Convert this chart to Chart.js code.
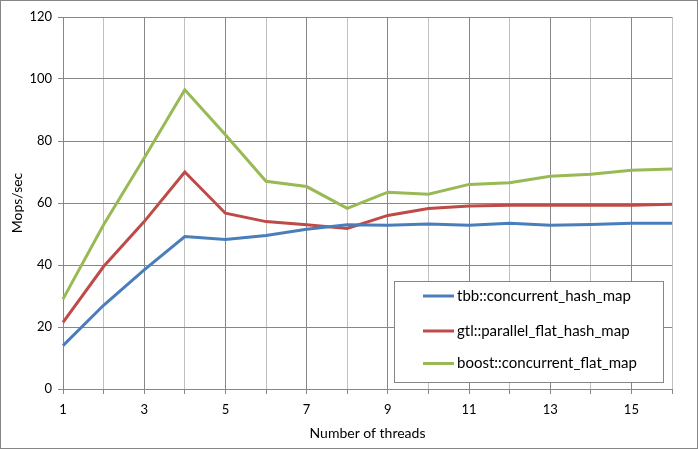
<!DOCTYPE html>
<html><head><meta charset="utf-8">
<script src="https://cdn.jsdelivr.net/npm/chart.js@4"></script>
<style>html,body{margin:0;padding:0;background:#fff;}#wrap{position:relative;width:698px;height:449px;box-sizing:border-box;border:1px solid #868686;}canvas{display:block;}</style>
</head><body><div id="wrap"><canvas id="c" width="696" height="447"></canvas></div>
<script>
const threads = ['1','2','3','4','5','6','7','8','9','10','11','12','13','14','15','16'];
const tbb = [14, 27, 38.4, 49.2, 48.2, 49.5, 51.5, 53, 52.8, 53.2, 52.8, 53.5, 52.8, 53.1, 53.5, 53.5];
const gtl = [21.5, 39.5, 54, 70, 56.7, 54, 53, 51.8, 56, 58.2, 59, 59.3, 59.3, 59.3, 59.3, 59.6];
const boost = [29, 53, 74.5, 96.5, 82, 67, 65.3, 58.3, 63.5, 62.8, 66, 66.5, 68.6, 69.3, 70.6, 71];
const seriesNames = ['tbb::concurrent_hash_map', 'gtl::parallel_flat_hash_map', 'boost::concurrent_flat_map'];
const seriesColors = ['#4a7ebb', '#be4b48', '#98b954'];

const FONT = 'Lato, "Open Sans", sans-serif';

const insideLegend = {
  id: 'insideLegend',
  afterDraw(chart) {
    const ctx = chart.ctx;
    const x = 393, y = 280, w = 269, h = 101;
    ctx.save();
    ctx.fillStyle = '#fff';
    ctx.fillRect(x, y, w, h);
    ctx.strokeStyle = '#868686';
    ctx.lineWidth = 1;
    ctx.strokeRect(x + 0.5, y + 0.5, w, h);
    ctx.font = '15px ' + FONT;
    ctx.textBaseline = 'middle';
    const ys = [296, 331, 363.5];
    chart.data.datasets.forEach((ds, i) => {
      const yy = ys[i] - 1;
      ctx.strokeStyle = ds.borderColor;
      ctx.lineWidth = 3;
      ctx.beginPath();
      ctx.moveTo(x + 29, yy);
      ctx.lineTo(x + 60, yy);
      ctx.stroke();
      ctx.fillStyle = '#000';
      ctx.fillText(ds.label, x + 63, yy);
    });
    ctx.restore();
  }
};

new Chart(document.getElementById('c'), {
  type: 'line',
  data: {
    labels: threads,
    datasets: [
      { label: seriesNames[0], data: tbb, borderColor: seriesColors[0] },
      { label: seriesNames[1], data: gtl, borderColor: seriesColors[1] },
      { label: seriesNames[2], data: boost, borderColor: seriesColors[2] }
    ].map(d => Object.assign(d, { borderWidth: 3, pointRadius: 0, tension: 0, fill: false, backgroundColor: d.borderColor }))
  },
  options: {
    responsive: false,
    animation: false,
    devicePixelRatio: 1,
    layout: { autoPadding: false, padding: { left: 0, top: 16, right: 25, bottom: 0 } },
    plugins: { legend: { display: false }, tooltip: { enabled: false } },
    scales: {
      x: {
        type: 'category',
        offset: false,
        afterFit(s) { s.height = 59; },
        grid: {
          offset: false,
          color: (c) => (c.index % 2 === 0 ? '#878787' : '#c0c0c0'),
          tickColor: '#878787',
          tickLength: 5,
          drawTicks: true
        },
        border: { color: '#878787', width: 1 },
        ticks: {
          autoSkip: false,
          maxRotation: 0,
          color: '#000',
          padding: 8,
          font: { family: FONT, size: 13 },
          callback(v, i) { return i % 2 === 0 ? this.getLabelForValue(v) : ''; }
        },
        title: { display: true, text: 'Number of threads', color: '#000', font: { family: FONT, size: 14 }, padding: { top: 4, bottom: 6 } }
      },
      y: {
        min: 0, max: 120,
        afterFit(s) { s.width = 62; },
        grid: { color: '#878787', tickColor: '#878787', tickLength: 5 },
        border: { color: '#878787', width: 1 },
        ticks: { stepSize: 20, color: '#000', padding: 6, font: { family: FONT, size: 13 } },
        title: { display: true, text: 'Mops/sec', color: '#000', font: { family: FONT, size: 14 }, padding: { top: 8, bottom: 4 } }
      }
    }
  },
  plugins: [insideLegend]
});
</script></body></html>
